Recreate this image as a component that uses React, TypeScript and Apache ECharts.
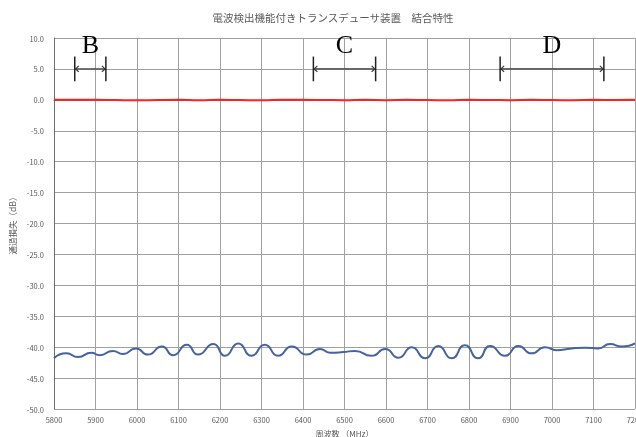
import React, { useEffect, useRef } from "react";
import * as echarts from "echarts";

const titleText = "電波検出機能付きトランスデューサ装置　結合特性";
const xName = "周波数 （MHz）";
const yName = "通過損失（dB）";

const blueFreq = [5800, 5830, 5858, 5890, 5910, 5942, 5966, 5998, 6026, 6060, 6087, 6120, 6147, 6184, 6212, 6244, 6276, 6308, 6340, 6373, 6409, 6441, 6465, 6497, 6525, 6565, 6598, 6630, 6662, 6694, 6726, 6758, 6790, 6822, 6851, 6887, 6919, 6951, 6983, 7011, 7047, 7080, 7111, 7140, 7168, 7200];
const blueVals = [-41.8, -41.0, -41.6, -40.9, -41.3, -40.6, -41.1, -40.2, -41.2, -39.9, -41.3, -39.6, -41.2, -39.5, -41.4, -39.4, -41.4, -39.6, -41.4, -39.9, -41.2, -40.3, -40.9, -40.8, -40.6, -41.4, -40.3, -41.7, -40.0, -41.8, -39.8, -41.8, -39.7, -41.8, -39.8, -41.4, -39.8, -41.0, -40.0, -40.5, -40.2, -40.1, -40.2, -39.5, -39.9, -39.4];

const redFreq = [5800, 5850, 5900, 5950, 6000, 6050, 6100, 6150, 6200, 6250, 6300, 6350, 6400, 6450, 6500, 6550, 6600, 6650, 6700, 6750, 6800, 6850, 6900, 6950, 7000, 7050, 7100, 7150, 7200];
const redVals = [0.0, 0.0, 0.02, -0.04, -0.08, -0.03, 0.0, -0.06, 0.0, -0.04, -0.07, 0.0, 0.0, -0.03, -0.06, 0.0, -0.05, 0.0, -0.04, -0.06, 0.0, -0.03, -0.05, 0.0, -0.04, -0.05, 0.0, -0.02, 0.0];

const bandLabels = ["B", "C", "D"];
const bandStart = [5850, 6425, 6875];
const bandEnd = [5925, 6575, 7125];
const arrowLevel = 5;
const barLow = 3;
const barHigh = 7;
const letterLevel = 8.9;

export default function App() {
  const ref = useRef<HTMLDivElement>(null);
  useEffect(() => {
    if (!ref.current) return;
    const chart = echarts.init(ref.current, null, { renderer: "svg" });
    const grayText = "#595959";
    const option = {
      animation: false,
      textStyle: { fontFamily: "'Noto Sans CJK JP', 'Noto Sans', sans-serif" },
      title: {
        text: titleText,
        left: 328,
        top: 7,
        textAlign: "center",
        textStyle: { fontSize: 10.5, fontWeight: "normal", color: grayText },
      },
      grid: { left: 54, right: 1, top: 38, bottom: 28, containLabel: false, outerBoundsMode: "none" },
      xAxis: {
        type: "value",
        min: 5800,
        max: 7200,
        interval: 100,
        name: xName,
        nameLocation: "middle",
        nameGap: 20,
        nameTextStyle: { fontSize: 8, color: grayText },
        axisLine: { show: true, lineStyle: { color: "#6e6e6e", width: 1 } },
        axisTick: { show: false },
        axisLabel: { fontSize: 7.5, color: grayText, margin: 7, formatter: (v: number) => String(v), hideOverlap: false },
        splitLine: { show: true, lineStyle: { color: "#a0a0a0", width: 1 } },
      },
      yAxis: {
        type: "value",
        min: -50,
        max: 10,
        interval: 5,
        name: yName,
        nameLocation: "middle",
        nameGap: 38,
        nameRotate: 90,
        nameTextStyle: { fontSize: 8.5, color: grayText },
        axisLine: { show: true, lineStyle: { color: "#6e6e6e", width: 1 } },
        axisTick: { show: false },
        axisLabel: { fontSize: 7.5, color: grayText, margin: 10, formatter: (v: number) => v.toFixed(1) },
        splitLine: { show: true, lineStyle: { color: "#a0a0a0", width: 1 } },
      },
      series: [
        {
          type: "line",
          data: redFreq.map((f, i) => [f, redVals[i]]),
          showSymbol: false,
          smooth: true,
          lineStyle: { color: "#ff2020", width: 2 },
        },
        {
          type: "line",
          data: blueFreq.map((f, i) => [f, blueVals[i]]),
          showSymbol: false,
          smooth: 0.6,
          lineStyle: { color: "#45639e", width: 2 },
        },
        {
          type: "custom",
          data: bandStart.map((s, i) => [s, bandEnd[i]]),
          clip: false,
          renderItem: (params: any, api: any) => {
            const s = api.value(0);
            const e = api.value(1);
            const p1 = api.coord([s, arrowLevel]);
            const p2 = api.coord([e, arrowLevel]);
            const b1 = api.coord([s, barHigh]);
            const b2 = api.coord([s, barLow]);
            const c1 = api.coord([e, barHigh]);
            const c2 = api.coord([e, barLow]);
            const t = api.coord([(s + e) / 2, letterLevel]);
            const stroke = "#333333";
            const ah = 4;
            const aw = 3;
            return {
              type: "group",
              children: [
                { type: "line", shape: { x1: p1[0], y1: p1[1], x2: p2[0], y2: p2[1] }, style: { stroke, lineWidth: 1.2 } },
                { type: "line", shape: { x1: b1[0], y1: b1[1], x2: b2[0], y2: b2[1] }, style: { stroke: "#222", lineWidth: 1.5 } },
                { type: "line", shape: { x1: c1[0], y1: c1[1], x2: c2[0], y2: c2[1] }, style: { stroke: "#222", lineWidth: 1.5 } },
                { type: "polyline", shape: { points: [[p1[0] + ah, p1[1] - aw], [p1[0] + 0.8, p1[1]], [p1[0] + ah, p1[1] + aw]] }, style: { stroke, lineWidth: 1.2, fill: "none" } },
                { type: "polyline", shape: { points: [[p2[0] - ah, p2[1] - aw], [p2[0] - 0.8, p2[1]], [p2[0] - ah, p2[1] + aw]] }, style: { stroke, lineWidth: 1.2, fill: "none" } },
                {
                  type: "text",
                  style: {
                    text: bandLabels[params.dataIndex],
                    x: t[0],
                    y: t[1],
                    align: "center",
                    verticalAlign: "middle",
                    fontSize: 26,
                    fontFamily: "'Liberation Serif', 'DejaVu Serif', serif",
                    fill: "#000",
                  },
                },
              ],
            };
          },
        },
      ],
    };
    chart.setOption(option as any);
    return () => chart.dispose();
  }, []);
  return <div ref={ref} style={{ position: "fixed", left: 0, top: 0, width: 636, height: 437 }} />;
}
